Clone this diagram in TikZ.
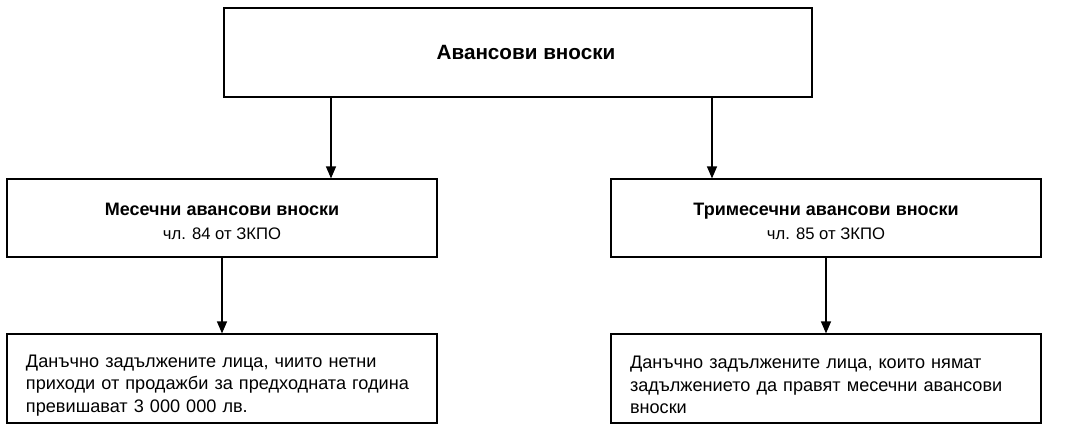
\documentclass[tikz,border=0pt]{standalone}
\usepackage{fontspec}
\setmainfont{Liberation Sans}
\usetikzlibrary{arrows.meta}

\tikzset{
  box/.style={draw, line width=0.9pt, minimum width=#1*0.75pt, inner sep=0pt},
  hdbox/.style={box=430, minimum height=78*0.75pt, align=center,
    font=\fontsize{12.5}{18}\selectfont},
  txtbox/.style={box=430, minimum height=89*0.75pt, align=left,
    text width=392*0.75pt, font=\fontsize{13.6}{16.9}\selectfont},
  link/.style={line width=0.9pt, -{Triangle[length=9pt, width=7.5pt]}}
}
\newcommand{\hdline}[1]{{\fontsize{13.5}{18}\selectfont\bfseries #1}}

\begin{document}
\begin{tikzpicture}[x=0.75pt, y=-0.75pt]

\useasboundingbox (0,0) rectangle (1071,430);

\node [box=588, minimum height=89*0.75pt, font=\fontsize{15.5}{17}\selectfont\bfseries]
  (top) at (518,52.5) {\hspace*{12pt}Авансови вноски};

\node [hdbox] (mleft) at (222,218)
  {\rule{0pt}{14pt}\hdline{Месечни авансови вноски}\\чл. 84 от ЗКПО};
\node [hdbox] (mright) at (826,218)
  {\rule{0pt}{14pt}\hdline{Тримесечни авансови вноски}\\чл. 85 от ЗКПО};

\node [txtbox] (bleft) at (222,378.5)
  {\rule{0pt}{19.5pt}Данъчно задължените лица, чиито нетни\\приходи от продажби за предходната година\\превишават 3 000 000 лв.};
\node [txtbox] (bright) at (826,378.5)
  {\rule{0pt}{19.5pt}Данъчно задължените лица, които нямат\\задължението да правят месечни авансови\\вноски};

% arrows from the top box are not centred on it
\coordinate (xl) at (331,0);
\coordinate (xr) at (712,0);

\draw [link] (top.south -| xl) -- (mleft.north -| xl);
\draw [link] (top.south -| xr) -- (mright.north -| xr);
\draw [link] (mleft.south) -- (bleft.north);
\draw [link] (mright.south) -- (bright.north);

\end{tikzpicture}
\end{document}
